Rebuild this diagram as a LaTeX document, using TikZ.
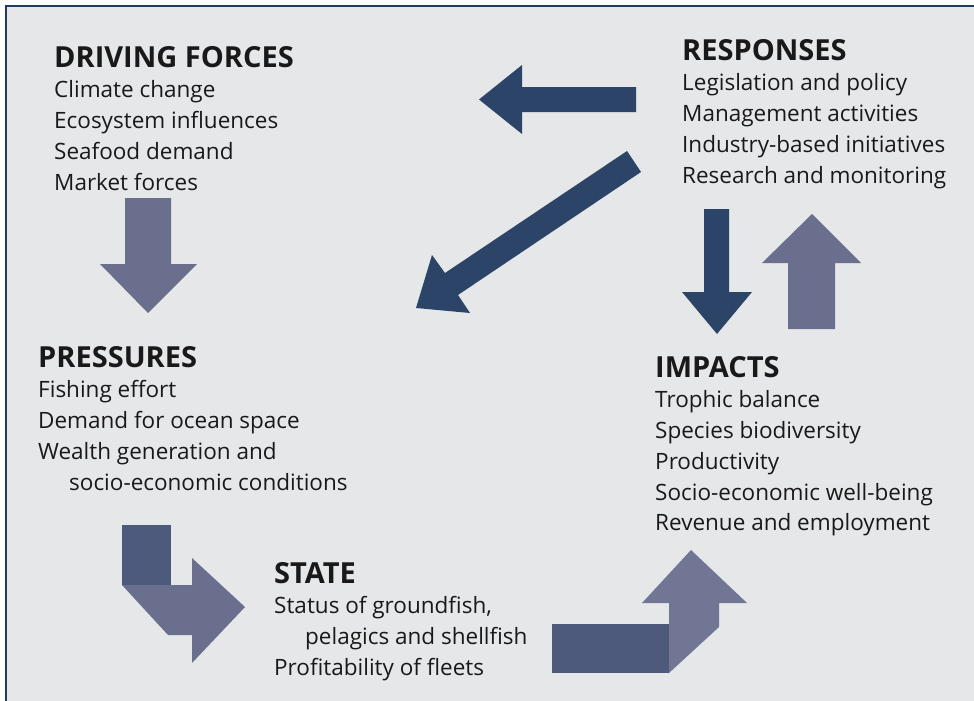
\documentclass[tikz,border=0pt]{standalone}
\usepackage{fontspec}
\setmainfont{Open Sans}
\definecolor{panelgray}{HTML}{E6E7E9}
\definecolor{framenavy}{HTML}{1F3B60}
\definecolor{arrownavy}{HTML}{2B4468}
\definecolor{arrowslate}{HTML}{6A6F8E}
\definecolor{arrowdark}{HTML}{4D5A7B}
\newcommand{\blockhead}{\fontsize{29}{30.7}\selectfont\bfseries}
\newcommand{\blockitem}{\fontsize{22.5}{30.7}\selectfont}
\begin{document}
\begin{tikzpicture}[x=1pt,y=-1pt,
    block/.style={anchor=north west,inner sep=0pt,align=left,font=\blockitem,text=black!90}]
    \useasboundingbox (0,0) rectangle (974,701);
    \clip (0,0) rectangle (974,701);
    \filldraw[fill=panelgray,draw=framenavy,line width=2pt] (6,6) rectangle (990,720);
    % text blocks
    \node[block] (drv) at (54,46) {{\blockhead DRIVING FORCES}\\Climate change\\Ecosystem influences\\Seafood demand\\Market forces};
    \node[block] (rsp) at (682,39) {{\blockhead RESPONSES}\\Legislation and policy\\Management activities\\Industry-based initiatives\\Research and monitoring};
    \node[block] (prs) at (38,346) {{\blockhead PRESSURES}\\Fishing effort\\Demand for ocean space\\Wealth generation and\\\hspace*{31pt}socio-economic conditions};
    \node[block] (imp) at (655,356) {{\blockhead IMPACTS}\\Trophic balance\\Species biodiversity\\Productivity\\Socio-economic well-being\\Revenue and employment};
    \node[block] (sta) at (274,562) {{\blockhead STATE}\\Status of groundfish,\\\hspace*{31pt}pelagics and shellfish\\Profitability of fleets};
    % block arrows
    \fill[arrowslate] (125,198)--(171,198)--(171,264)--(197,264)--(148,313)--(100,264)--(125,264)--cycle;
    \fill[arrownavy] (636,87)--(636,112)--(522,112)--(522,134)--(479,99.5)--(522,65)--(522,87)--cycle;
    \fill[arrownavy] (627,151)--(641,172)--(458,295)--(470,313)--(416,308)--(432,255)--(445,273)--cycle;
    \fill[arrownavy] (704,209)--(729,209)--(729,292)--(752,292)--(717,334)--(682,292)--(704,292)--cycle;
    \fill[arrowslate] (788,329)--(835,329)--(835,263)--(861,263)--(812,214)--(762,263)--(788,263)--cycle;
    \fill[arrowdark] (122,525) rectangle (171,585);
    \fill[arrowslate] (122,585)--(192,585)--(192,558)--(245,607)--(192,663)--(192,635)--(168,635)--cycle;
    \fill[arrowdark] (552,624) rectangle (669,673);
    \fill[arrowslate!95!white] (669,673)--(669,603)--(642,603)--(691,550)--(747,603)--(719,603)--(719,627)--cycle;
  \end{tikzpicture}
\end{document}
